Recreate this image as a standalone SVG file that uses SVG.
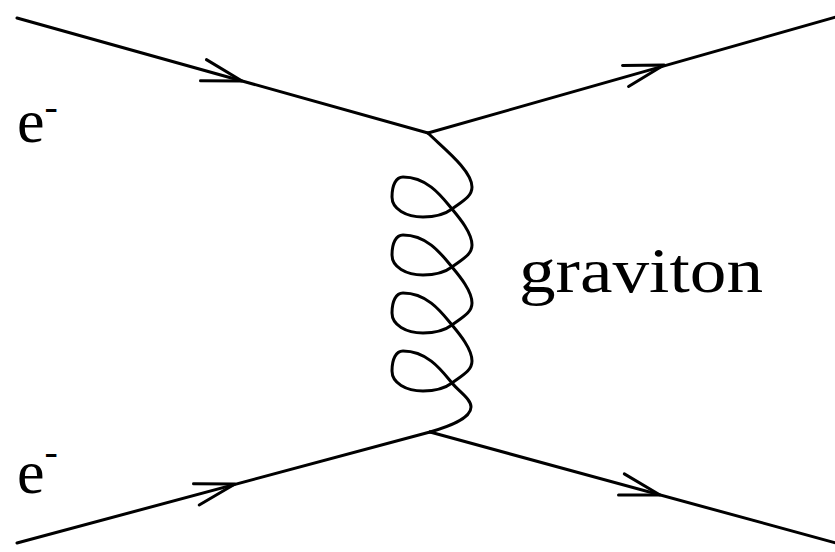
<svg xmlns="http://www.w3.org/2000/svg" xmlns:xlink="http://www.w3.org/1999/xlink" width="835" height="552" viewBox="0 0 835 552">
  <style>
    .ln { fill: none; stroke: #000; stroke-width: 3; stroke-linecap: round; stroke-linejoin: round; }
    .lbl { font-family: "Liberation Serif", "Times New Roman", serif; fill: #000; }
  </style>
  <defs>
    <path id="arr" class="ln" d="M-40,-11 L0,0 L-40,11"/>
  </defs>
  <rect width="835" height="552" fill="#fff"/>
  <g id="connectors">
    <g id="fermion-in-top">
      <line class="ln" x1="17" y1="18" x2="428" y2="133"/>
      <use xlink:href="#arr" transform="translate(242,81) rotate(15.6)"/>
    </g>
    <g id="fermion-out-top">
      <line class="ln" x1="428" y1="133" x2="836" y2="17"/>
      <use xlink:href="#arr" transform="translate(664,65) rotate(-15.9)"/>
    </g>
    <g id="fermion-in-bottom">
      <line class="ln" x1="17" y1="543" x2="430" y2="432"/>
      <use xlink:href="#arr" transform="translate(235,484) rotate(-15)"/>
    </g>
    <g id="fermion-out-bottom">
      <line class="ln" x1="430" y1="432" x2="836" y2="543"/>
      <use xlink:href="#arr" transform="translate(660,495) rotate(15.3)"/>
    </g>
    <path id="graviton-line" class="ln" d="M428,133 C442,147 472,170 472,187
      C472,197 461.6,201.8 452,209 C442.4,216.2 432,217 423,217 C406,217 392,209 392,197 C392,185 396,177 403,177 C428,177 442.4,197.45 452,209 C459.7,218.2 472,233 472,245
      C472,255 461.6,259.8 452,267 C442.4,274.2 432,275 423,275 C406,275 392,267 392,255 C392,243 396,235 403,235 C428,235 442.4,255.45 452,267 C459.7,276.2 472,291 472,303
      C472,313 461.6,317.8 452,325 C442.4,332.2 432,333 423,333 C406,333 392,325 392,313 C392,301 396,293 403,293 C428,293 442.4,313.45 452,325 C459.7,334.2 472,349 472,361
      C472,371 461.6,375.8 452,383 C442.4,390.2 432,391 423,391 C406,391 392,383 392,371 C392,359 396,351 403,351 C428,351 442.4,371.45 452,383
      C459.7,392.2 471,399 471,407 C471,419 447,427 430,432"/>
  </g>
  <g id="label-e-top">
    <text class="lbl" x="17" y="142" font-size="62">e<tspan font-size="40" dy="-22">-</tspan></text>
  </g>
  <g id="label-e-bottom">
    <text class="lbl" x="17" y="493" font-size="62">e<tspan font-size="40" dy="-28">-</tspan></text>
  </g>
  <g id="label-graviton">
    <text class="lbl" x="519" y="292" font-size="64" textLength="244" lengthAdjust="spacingAndGlyphs">graviton</text>
  </g>
</svg>
